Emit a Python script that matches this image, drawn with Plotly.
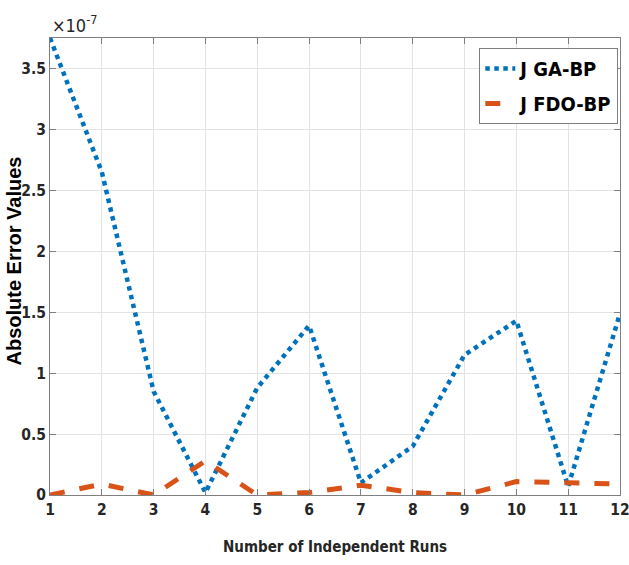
import plotly.graph_objects as go

runs = list(range(1, 13))
# values in units of 1e-7
ga_bp = [3.75, 2.65, 0.85, 0.02, 0.88, 1.39, 0.10, 0.40, 1.15, 1.43, 0.07, 1.49]
fdo_bp = [0.00, 0.09, 0.00, 0.28, 0.00, 0.02, 0.08, 0.02, 0.00, 0.11, 0.10, 0.09]
y_ticks = [0, 0.5, 1, 1.5, 2, 2.5, 3, 3.5]
y_tick_text = ["0", "0.5", "1", "1.5", "2", "2.5", "3", "3.5"]

narrow = "DejaVu Sans Condensed, Liberation Sans, Arial"

fig = go.Figure()
fig.add_trace(go.Scatter(x=runs, y=ga_bp, mode="lines", name="J GA-BP", legendgroup="a",
                         line=dict(color="#0072BD", width=4.5, dash="dot")))
fig.add_trace(go.Scatter(x=runs, y=fdo_bp, mode="lines", name="J FDO-BP", legendgroup="b",
                         line=dict(color="#D95319", width=5, dash="dash")))

axis_common = dict(showline=True, linecolor="#7f7f7f", linewidth=1, mirror="ticks",
                   ticks="inside", ticklen=6, tickcolor="#7f7f7f",
                   showgrid=True, gridcolor="#e3e3e3", gridwidth=1, zeroline=False,
                   ticklabeloverflow="allow", automargin=False,
                   tickfont=dict(family=narrow, size=15.5, color="#262626", weight="bold"))

fig.update_layout(
    width=629, height=565,
    margin=dict(l=50, r=9, t=38, b=70),
    paper_bgcolor="white", plot_bgcolor="white",
    xaxis=dict(range=[1, 12], tickvals=runs, **axis_common),
    yaxis=dict(range=[0, 3.75], tickvals=y_ticks, ticktext=y_tick_text, **axis_common),
    showlegend=True,
    legend=dict(x=0.997, y=0.978, xanchor="right", yanchor="top",
                bgcolor="white", bordercolor="#7f7f7f", borderwidth=1,
                font=dict(family=narrow, size=20, color="black", weight="bold"),
                itemwidth=30, tracegroupgap=6),
    annotations=[
        dict(text="Number of Independent Runs", xref="paper", yref="paper", x=0.5, y=0,
             yshift=-52, xanchor="center", yanchor="middle", showarrow=False,
             font=dict(family=narrow, size=15, color="#262626", weight="bold")),
        dict(text="Absolute Error Values", xref="paper", yref="paper", x=0, y=0.5,
             xshift=-37, yshift=5, textangle=-90, xanchor="center", yanchor="middle",
             showarrow=False,
             font=dict(family="Liberation Sans, Arial", size=20, color="black", weight="bold")),
        dict(text="\u00d710<sup>-7</sup>", xref="paper", yref="paper", x=0, y=1,
             xanchor="left", yanchor="bottom", yshift=0, showarrow=False,
             font=dict(family=narrow, size=18, color="#262626")),
    ],
)

fig.write_html("out.html")
